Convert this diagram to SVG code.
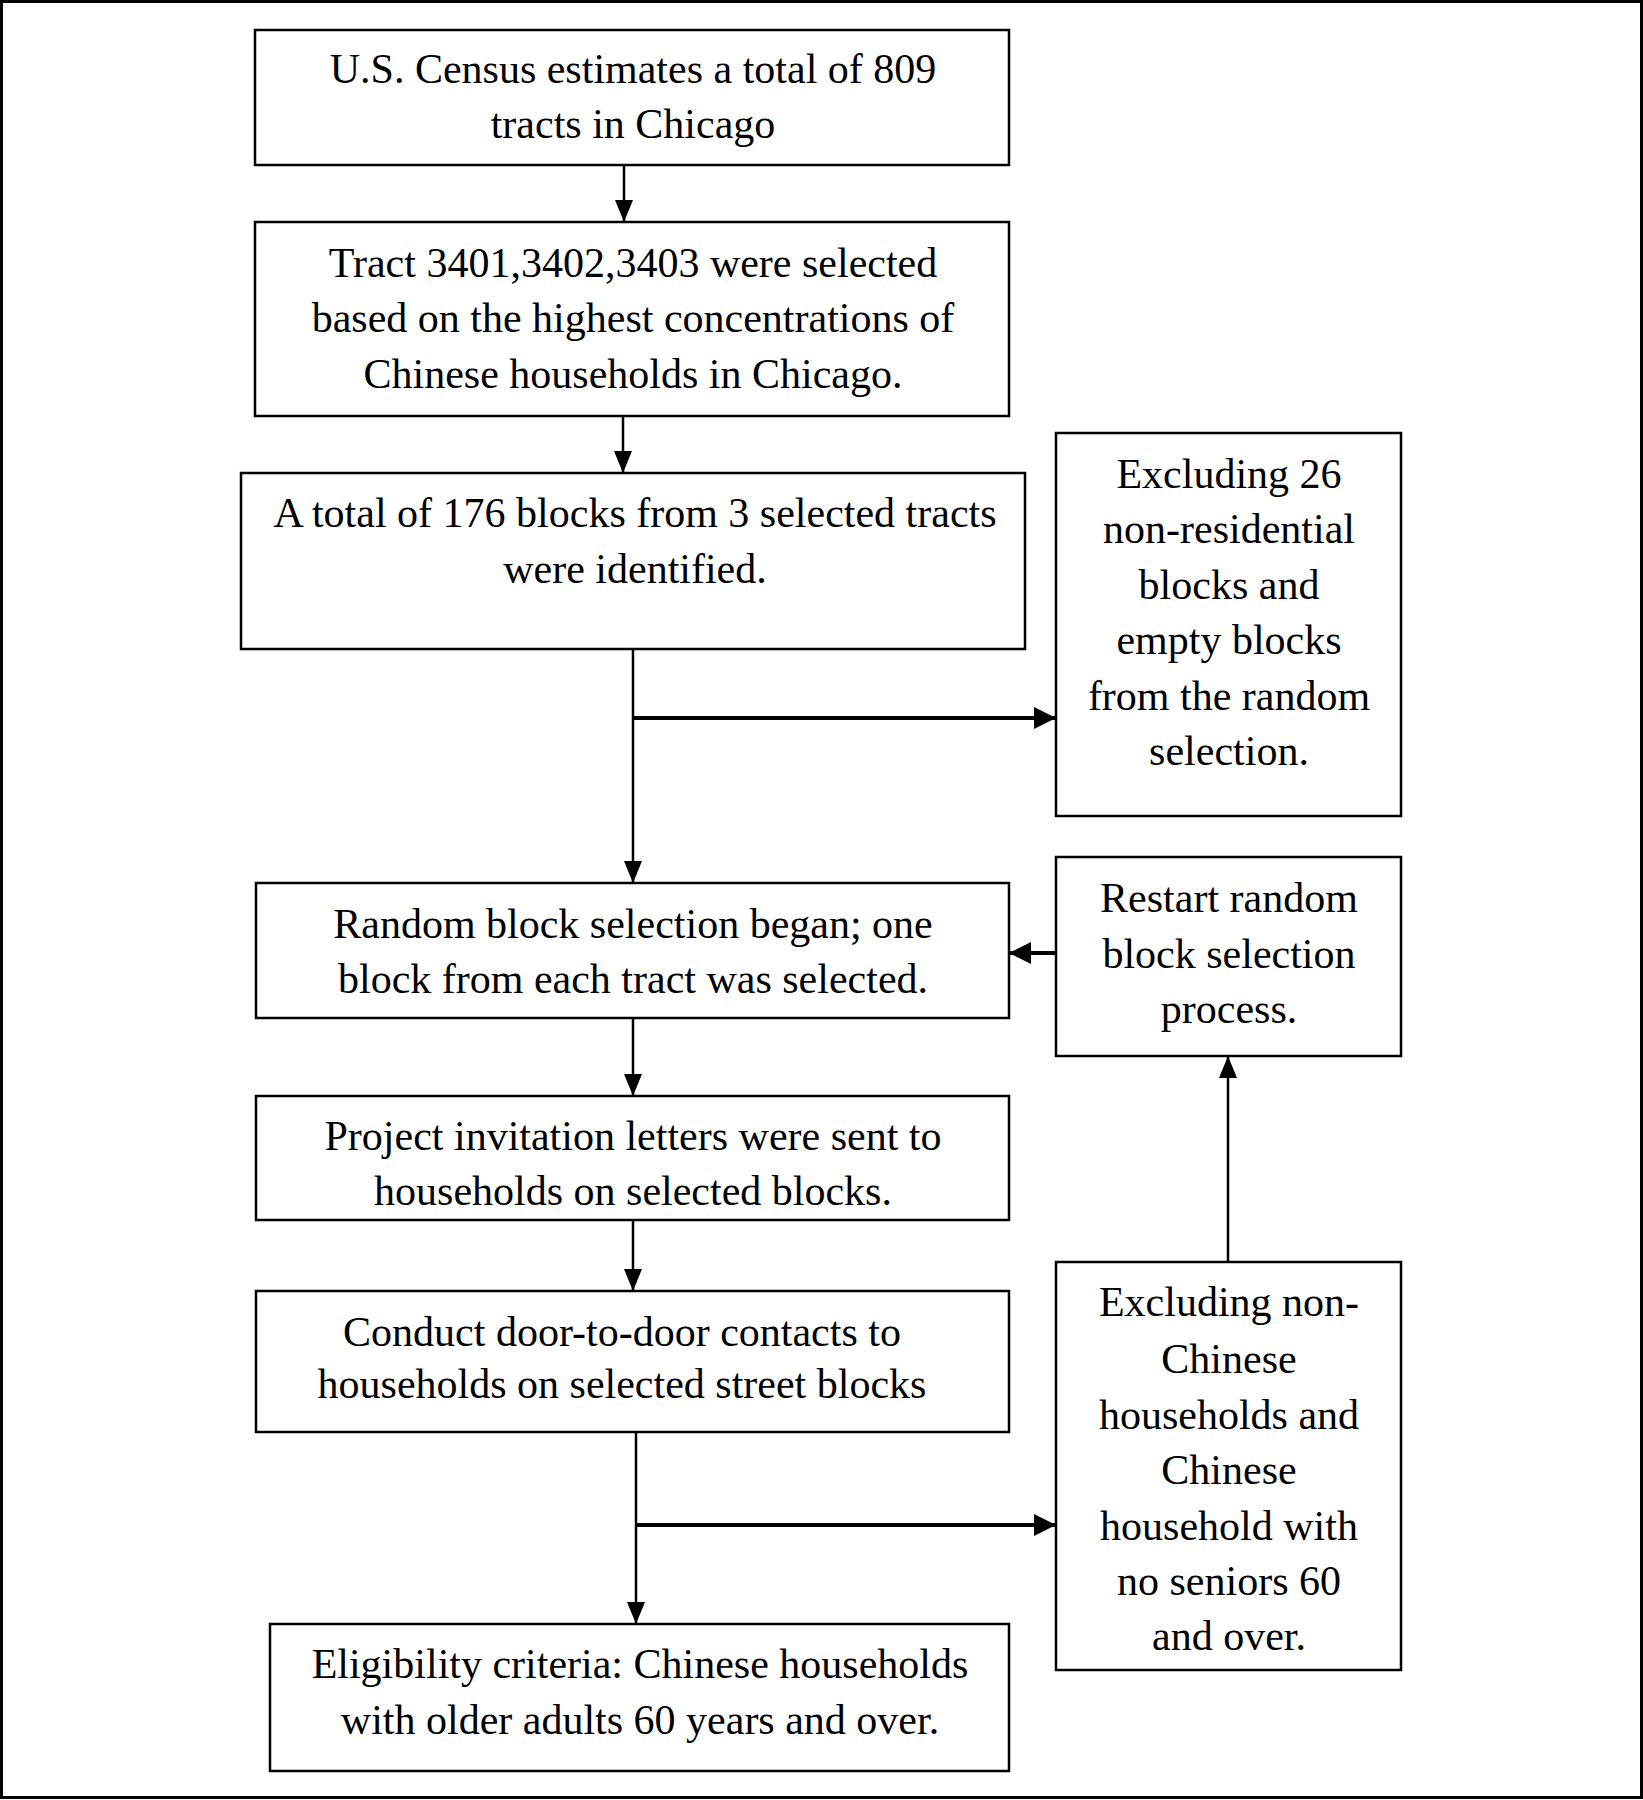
<svg xmlns="http://www.w3.org/2000/svg" width="1643" height="1800" viewBox="0 0 1643 1800">
<style>
.box{fill:#fff;stroke:#000;stroke-width:2.5}
.t{font-family:"Liberation Serif","Times New Roman",serif;font-size:42px;fill:#000;text-anchor:middle}
.c{fill:none;stroke:#000;stroke-width:2.5}
.ck{fill:none;stroke:#000;stroke-width:4}
</style>
<defs>
<marker id="a" markerUnits="userSpaceOnUse" markerWidth="22" markerHeight="18" refX="22" refY="9" orient="auto"><path d="M0,0 L22,9 L0,18 z" fill="#000"/></marker>
<marker id="ak" markerUnits="userSpaceOnUse" markerWidth="22" markerHeight="22" refX="22" refY="11" orient="auto"><path d="M0,0 L22,11 L0,22 z" fill="#000"/></marker>
</defs>
<rect x="0" y="0" width="1643" height="1800" fill="#fff"/>
<rect x="1.5" y="1.5" width="1640" height="1796" fill="none" stroke="#000" stroke-width="3"/>
<g id="connectors">
<line class="c" x1="624" y1="165" x2="624" y2="222" marker-end="url(#a)"/>
<line class="c" x1="623" y1="416" x2="623" y2="473" marker-end="url(#a)"/>
<line class="c" x1="633" y1="649" x2="633" y2="883" marker-end="url(#a)"/>
<line class="ck" x1="633" y1="718" x2="1056" y2="718" marker-end="url(#ak)"/>
<line class="ck" x1="1056" y1="953" x2="1009" y2="953" marker-end="url(#ak)"/>
<line class="c" x1="633" y1="1018" x2="633" y2="1096" marker-end="url(#a)"/>
<line class="c" x1="633" y1="1220" x2="633" y2="1291" marker-end="url(#a)"/>
<line class="c" x1="636" y1="1432" x2="636" y2="1624" marker-end="url(#a)"/>
<line class="ck" x1="636" y1="1525" x2="1056" y2="1525" marker-end="url(#ak)"/>
<line class="c" x1="1228" y1="1262" x2="1228" y2="1056" marker-end="url(#a)"/>
</g>
<g id="n1"><rect class="box" x="255" y="30" width="754" height="135"/>
<text class="t" x="633" y="83">U.S. Census estimates a total of 809</text>
<text class="t" x="633" y="138">tracts in Chicago</text></g>
<g id="n2"><rect class="box" x="255" y="222" width="754" height="194"/>
<text class="t" x="633" y="277">Tract 3401,3402,3403 were selected</text>
<text class="t" x="633" y="332">based on the highest concentrations of</text>
<text class="t" x="633" y="388">Chinese households in Chicago.</text></g>
<g id="n3"><rect class="box" x="241" y="473" width="784" height="176"/>
<text class="t" x="635" y="527">A total of 176 blocks from 3 selected tracts</text>
<text class="t" x="635" y="583">were identified.</text></g>
<g id="n4"><rect class="box" x="1056" y="433" width="345" height="383"/>
<text class="t" x="1229" y="488">Excluding 26</text>
<text class="t" x="1229" y="543">non-residential</text>
<text class="t" x="1229" y="599">blocks and</text>
<text class="t" x="1229" y="654">empty blocks</text>
<text class="t" x="1229" y="710">from the random</text>
<text class="t" x="1229" y="765">selection.</text></g>
<g id="n5"><rect class="box" x="256" y="883" width="753" height="135"/>
<text class="t" x="633" y="938">Random block selection began; one</text>
<text class="t" x="633" y="993">block from each tract was selected.</text></g>
<g id="n6"><rect class="box" x="1056" y="857" width="345" height="199"/>
<text class="t" x="1229" y="912">Restart random</text>
<text class="t" x="1229" y="968">block selection</text>
<text class="t" x="1229" y="1023">process.</text></g>
<g id="n7"><rect class="box" x="256" y="1096" width="753" height="124"/>
<text class="t" x="633" y="1150">Project invitation letters were sent to</text>
<text class="t" x="633" y="1205">households on selected blocks.</text></g>
<g id="n8"><rect class="box" x="256" y="1291" width="753" height="141"/>
<text class="t" x="622" y="1346">Conduct door-to-door contacts to</text>
<text class="t" x="622" y="1398">households on selected street blocks</text></g>
<g id="n9"><rect class="box" x="1056" y="1262" width="345" height="408"/>
<text class="t" x="1229" y="1316">Excluding non-</text>
<text class="t" x="1229" y="1373">Chinese</text>
<text class="t" x="1229" y="1429">households and</text>
<text class="t" x="1229" y="1484">Chinese</text>
<text class="t" x="1229" y="1540">household with</text>
<text class="t" x="1229" y="1595">no seniors 60</text>
<text class="t" x="1229" y="1650">and over.</text></g>
<g id="n10"><rect class="box" x="270" y="1624" width="739" height="147"/>
<text class="t" x="640" y="1678">Eligibility criteria: Chinese households</text>
<text class="t" x="640" y="1734">with older adults 60 years and over.</text></g>
</svg>
